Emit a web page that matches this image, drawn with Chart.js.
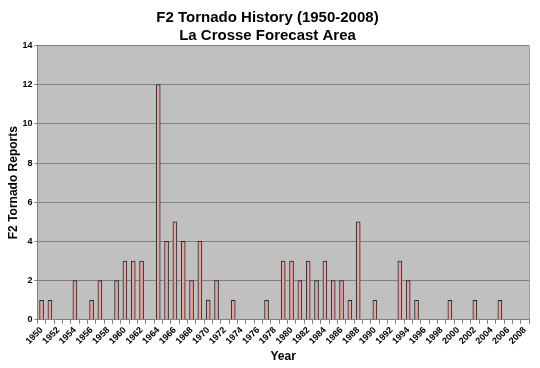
<!DOCTYPE html>
<html>
<head>
<meta charset="utf-8">
<script src="https://cdn.jsdelivr.net/npm/chart.js@4/dist/chart.umd.min.js"></script>
<style>
  html, body { margin: 0; padding: 0; background: #ffffff; }
  #wrap { width: 540px; height: 368px; }
</style>
</head>
<body>
<div id="wrap"><canvas id="tornadoChart" width="540" height="368"></canvas></div>
<script>
// years 1950..2008
const years = [];
for (let y = 1950; y <= 2008; y++) years.push(String(y));

// F2 reports per year
const reports = [
  1, 1, 0, 0, 2, 0, 1, 2, 0, 2,   // 1950-1959
  3, 3, 3, 0, 12, 4, 5, 4, 2, 4,  // 1960-1969
  1, 2, 0, 1, 0, 0, 0, 1, 0, 3,   // 1970-1979
  3, 2, 3, 2, 3, 2, 2, 1, 5, 0,   // 1980-1989
  1, 0, 0, 3, 2, 1, 0, 0, 0, 1,   // 1990-1999
  0, 0, 1, 0, 0, 1, 0, 0, 0       // 2000-2008
];

const titleLines = ['F2 Tornado History (1950-2008)', 'La Crosse Forecast Area'];

// grey plot background
const plotBg = {
  id: 'plotBg',
  beforeDraw(chart) {
    const a = chart.chartArea, c = chart.ctx;
    c.save();
    c.fillStyle = '#c0c0c0';
    c.fillRect(a.left, a.top, a.right - a.left, a.bottom - a.top);
    c.strokeStyle = '#a0a0a0';
    c.lineWidth = 1;
    c.beginPath();
    c.moveTo(a.right + 0.5, a.top);
    c.lineTo(a.right + 0.5, a.bottom);
    c.stroke();
    c.restore();
  }
};

const ctx = document.getElementById('tornadoChart').getContext('2d');
new Chart(ctx, {
  type: 'bar',
  data: {
    labels: years,
    datasets: [{
      label: 'F2 Tornado Reports',
      data: reports,
      backgroundColor: '#e8a2a0',
      borderColor: '#1e2a28',
      borderWidth: 1,
      borderSkipped: 'bottom',
      barThickness: 4
    }]
  },
  options: {
    responsive: false,
    animation: false,
    devicePixelRatio: 1,
    layout: { padding: { left: 6, right: 11, top: 4, bottom: 4 } },
    plugins: {
      legend: { display: false },
      tooltip: { enabled: false },
      title: {
        display: true,
        text: titleLines,
        color: '#000000',
        font: { family: 'Liberation Sans, Arial', size: 15, weight: 'bold', lineHeight: 1.25 },
        padding: { top: 4, bottom: 0 }
      }
    },
    scales: {
      x: {
        offset: true,
        grid: {
          display: true,
          offset: true,
          drawOnChartArea: false,
          drawTicks: true,
          tickLength: 4,
          color: '#808080'
        },
        border: { color: '#808080' },
        ticks: {
          autoSkip: false,
          maxRotation: 45,
          minRotation: 45,
          padding: 1,
          color: '#000000',
          font: { family: 'Liberation Sans, Arial', size: 9, weight: 'bold' },
          callback: function(val, i) {
            return (i % 2 === 0) ? years[i] : '';
          }
        },
        title: {
          display: true,
          text: 'Year',
          color: '#000000',
          font: { family: 'Liberation Sans, Arial', size: 12, weight: 'bold' },
          padding: { top: 2, bottom: 0 }
        }
      },
      y: {
        min: 0,
        max: 14,
        grid: {
          color: '#808080',
          tickLength: 3
        },
        border: { color: '#808080' },
        ticks: {
          stepSize: 2,
          padding: 2,
          color: '#000000',
          font: { family: 'Liberation Sans, Arial', size: 9, weight: 'bold' }
        },
        title: {
          display: true,
          text: 'F2 Tornado Reports',
          color: '#000000',
          font: { family: 'Liberation Sans, Arial', size: 12, weight: 'bold' },
          padding: { top: 0, bottom: 0 }
        }
      }
    }
  },
  plugins: [plotBg]
});
</script>
</body>
</html>
